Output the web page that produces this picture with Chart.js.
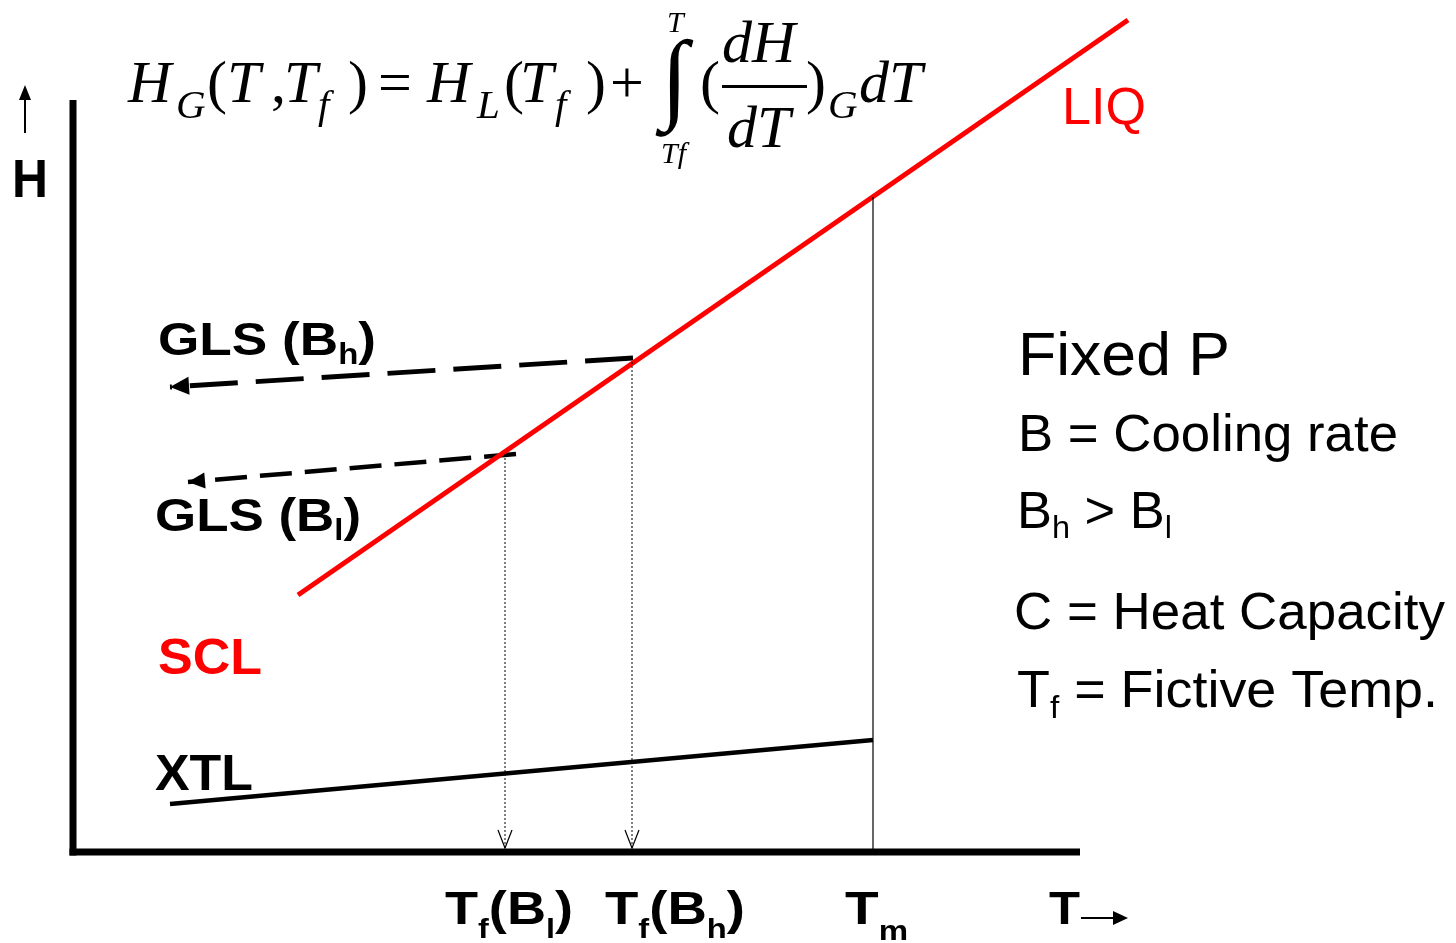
<!DOCTYPE html>
<html>
<head>
<meta charset="utf-8">
<script src="https://cdn.jsdelivr.net/npm/chart.js@4.4.1/dist/chart.umd.min.js"></script>
<style>
  html, body { margin: 0; padding: 0; background: #ffffff; }
  canvas { display: block; }
</style>
</head>
<body>
<canvas id="c" width="1456" height="943"></canvas>
<script>
// ---- Diagram values (T along x, H along y, arbitrary units) ----
const axisT = [0, 10.07];            // T axis from origin to its end
const axisH = [0, 7.52];             // H axis from origin to its top

// supercooled liquid / liquid line
const liqT = [2.25, 10.55];
const liqH = [2.57, 8.32];

// crystal line, ending at the melting point
const xtlT = [0.97, 8.0];
const xtlH = [0.48, 1.12];

// glass lines: start on the liquid line, run toward low T
const glsHighT = [5.60, 0.97];
const glsHighH = [4.94, 4.65];
const glsLowT  = [4.43, 1.15];
const glsLowH  = [3.98, 3.70];

// fictive temperatures and melting temperature
const tfLow  = 4.32;
const tfHigh = 5.59;
const tMelt  = 8.0;
const tfLowH  = 3.98;   // H where each drop line leaves the upper curve
const tfHighH = 4.90;
const tMeltH  = 6.55;

// little axis direction arrows
const hArrowT = [-0.48, -0.48];
const hArrowH = [7.19, 7.67];
const tArrowT = [10.08, 10.55];
const tArrowH = [-0.66, -0.66];

// visible window
const T_MIN = -0.73, T_MAX = 13.83;
const H_MIN = -0.91, H_MAX = 8.52;

function pts(ts, hs) { return ts.map((t, i) => ({ x: t, y: hs[i] })); }

function line(data, color, width, dash) {
  return {
    data, showLine: true, borderColor: color, borderWidth: width,
    borderDash: dash || [], pointRadius: 0, fill: false, tension: 0,
    borderCapStyle: 'butt'
  };
}

const RED = '#ff0000';
const BLACK = '#000000';

const datasets = [
  line(pts([axisT[0], axisT[0]], [axisH[0] - 0.035, axisH[1]]), BLACK, 7),
  line(pts([axisT[0] - 0.035, axisT[1]], [axisH[0], axisH[0]]), BLACK, 7),
  line(pts([tMelt, tMelt], [0, tMeltH]), BLACK, 1.2),
  line(pts([tfLow, tfLow], [tfLowH, 0.04]), BLACK, 1, [2, 2]),
  line(pts([tfHigh, tfHigh], [tfHighH, 0.04]), BLACK, 1, [2, 2]),
  line(pts(xtlT, xtlH), BLACK, 4.5),
  line(pts(liqT, liqH), RED, 5),
  line(pts(glsHighT, glsHighH), BLACK, 5, [48, 18]),
  line(pts(glsLowT, glsLowH), BLACK, 4.5, [32, 13]),
  line(pts(hArrowT, [hArrowH[0], hArrowH[1] - 0.1]), BLACK, 2),
  line(pts([tArrowT[0], tArrowT[1] - 0.1], tArrowH), BLACK, 2)
];

// ---- text helpers ----
function runFont(r, base) {
  const size = r.sub ? base.size * (base.subScale || 0.62) : (r.size || base.size);
  const style = r.italic !== undefined ? (r.italic ? 'italic ' : '') : (base.italic ? 'italic ' : '');
  const weight = base.weight || 'normal';
  return style + weight + ' ' + size + 'px ' + (base.family || '"Liberation Sans", Arial, sans-serif');
}

function drawRich(ctx, parts, x, y, base) {
  ctx.save();
  let natural = 0;
  parts.forEach(r => { ctx.font = runFont(r, base); natural += ctx.measureText(r.t).width + (r.gap || 0); });
  const sx = base.width ? base.width / natural : 1;
  ctx.translate(x, y);
  ctx.scale(sx, 1);
  ctx.fillStyle = base.color || BLACK;
  ctx.textBaseline = 'alphabetic';
  ctx.textAlign = 'left';
  let cx = 0;
  parts.forEach(r => {
    ctx.font = runFont(r, base);
    const dy = r.sub ? base.size * (base.subDrop || 0.22) : 0;
    ctx.fillText(r.t, cx, dy);
    cx += ctx.measureText(r.t).width + (r.gap || 0);
  });
  ctx.restore();
}

function arrowHead(ctx, tip, from, len, half, filled) {
  const dx = tip.x - from.x, dy = tip.y - from.y;
  const d = Math.hypot(dx, dy);
  const ux = dx / d, uy = dy / d;
  const bx = tip.x - ux * len, by = tip.y - uy * len;
  ctx.beginPath();
  ctx.moveTo(bx - uy * half, by + ux * half);
  ctx.lineTo(tip.x, tip.y);
  ctx.lineTo(bx + uy * half, by - ux * half);
  if (filled) { ctx.closePath(); ctx.fill(); } else { ctx.stroke(); }
}

const SANS = '"Liberation Sans", Arial, sans-serif';
const SERIF = '"Liberation Serif", "Times New Roman", serif';

const labels = [
  { parts: [{ t: 'LIQ' }], x: 1062, y: 124, base: { size: 51, color: RED, width: 84 } },
  { parts: [{ t: 'SCL' }], x: 158, y: 674, base: { size: 50, weight: 'bold', color: RED, width: 104 } },
  { parts: [{ t: 'XTL' }], x: 155, y: 790, base: { size: 50, weight: 'bold', width: 98 } },
  { parts: [{ t: 'GLS (B' }, { t: 'h', sub: true }, { t: ')' }], x: 158, y: 355,
    base: { size: 47, weight: 'bold', width: 218, subScale: 0.62, subDrop: 0.2 } },
  { parts: [{ t: 'GLS (B' }, { t: 'l', sub: true }, { t: ')' }], x: 155, y: 531,
    base: { size: 47, weight: 'bold', width: 206, subScale: 0.62, subDrop: 0.2 } },
  { parts: [{ t: 'H' }], x: 12, y: 197, base: { size: 54, weight: 'bold', width: 36 } },
  { parts: [{ t: 'T' }, { t: 'f', sub: true }, { t: '(B' }, { t: 'l', sub: true }, { t: ')' }], x: 445, y: 924,
    base: { size: 47, weight: 'bold', width: 128, subScale: 0.6, subDrop: 0.3 } },
  { parts: [{ t: 'T' }, { t: 'f', sub: true }, { t: '(B' }, { t: 'h', sub: true }, { t: ')' }], x: 605, y: 924,
    base: { size: 47, weight: 'bold', width: 140, subScale: 0.6, subDrop: 0.3 } },
  { parts: [{ t: 'T' }, { t: 'm', sub: true }], x: 845, y: 924,
    base: { size: 47, weight: 'bold', width: 63, subScale: 0.6, subDrop: 0.35 } },
  { parts: [{ t: 'T' }], x: 1049, y: 924, base: { size: 47, weight: 'bold', width: 31 } },
  { parts: [{ t: 'Fixed P' }], x: 1018, y: 375, base: { size: 62, width: 212 } },
  { parts: [{ t: 'B = Cooling rate' }], x: 1018, y: 451, base: { size: 52, width: 380 } },
  { parts: [{ t: 'B' }, { t: 'h', sub: true }, { t: ' > B' }, { t: 'l', sub: true }], x: 1017, y: 528,
    base: { size: 52, subScale: 0.62, subDrop: 0.2, width: 155 } },
  { parts: [{ t: 'C = Heat Capacity' }], x: 1014, y: 629, base: { size: 52, width: 431 } },
  { parts: [{ t: 'T' }, { t: 'f', sub: true }, { t: ' = Fictive Temp.' }], x: 1017, y: 707,
    base: { size: 52, subScale: 0.62, subDrop: 0.22, width: 421 } }
];

// equation pieces: [text, left x, baseline y, size, italic]
const EQ_SIZE = 60;
const EQ_SUB = 41;
const equation = [
  ['H', 128, 102, EQ_SIZE, true],
  ['G', 176, 118, EQ_SUB, true],
  ['(', 207, 102, EQ_SIZE, false],
  ['T', 227, 102, EQ_SIZE, true],
  [',', 271, 102, EQ_SIZE, false],
  ['T', 284, 102, EQ_SIZE, true],
  ['f', 318, 118, EQ_SUB, true],
  [')', 348, 102, EQ_SIZE, false],
  ['=', 378, 102, EQ_SIZE, false],
  ['H', 427, 102, EQ_SIZE, true],
  ['L', 477, 118, EQ_SUB, true],
  ['(', 504, 102, EQ_SIZE, false],
  ['T', 520, 102, EQ_SIZE, true],
  ['f', 555, 118, EQ_SUB, true],
  [')', 586, 102, EQ_SIZE, false],
  ['+', 610, 102, EQ_SIZE, false],
  ['T', 667, 32, 30, true],
  ['Tf', 661, 163, 30, true],
  ['(', 700, 102, EQ_SIZE, false],
  ['dH', 722, 62, EQ_SIZE, true],
  ['dT', 727, 147, EQ_SIZE, true],
  [')', 806, 102, EQ_SIZE, false],
  ['G', 828, 118, EQ_SUB, true],
  ['dT', 859, 102, EQ_SIZE, true]
];

const overlay = {
  id: 'overlay',
  afterDatasetsDraw(chart) {
    const ctx = chart.ctx;
    const xs = chart.scales.x, ys = chart.scales.y;
    const P = (t, h) => ({ x: xs.getPixelForValue(t), y: ys.getPixelForValue(h) });

    ctx.save();
    ctx.fillStyle = BLACK;
    ctx.strokeStyle = BLACK;

    // filled heads on the glass lines
    arrowHead(ctx, P(glsHighT[1], glsHighH[1]), P(glsHighT[0], glsHighH[0]), 19, 9, true);
    arrowHead(ctx, P(glsLowT[1], glsLowH[1]), P(glsLowT[0], glsLowH[0]), 17, 8, true);

    // open heads at the foot of the fictive temperature drop lines
    ctx.lineWidth = 1.2;
    arrowHead(ctx, P(tfLow, 0.04), P(tfLow, 1), 18, 7, false);
    arrowHead(ctx, P(tfHigh, 0.04), P(tfHigh, 1), 18, 7, false);

    // axis direction arrows
    arrowHead(ctx, P(hArrowT[1], hArrowH[1]), P(hArrowT[0], hArrowH[0]), 15, 6, true);
    arrowHead(ctx, P(tArrowT[1], tArrowH[1]), P(tArrowT[0], tArrowH[0]), 15, 7, true);

    // labels
    labels.forEach(l => drawRich(ctx, l.parts, l.x, l.y, l.base));

    // the equation
    ctx.fillStyle = BLACK;
    ctx.textBaseline = 'alphabetic';
    equation.forEach(([t, x, y, s, it]) => {
      ctx.font = (it ? 'italic ' : '') + s + 'px ' + SERIF;
      ctx.fillText(t, x, y);
    });
    // integral sign
    ctx.font = '100px ' + SERIF;
    ctx.fillText('\u222B', 661, 110);
    // fraction bar
    ctx.fillRect(722, 85, 85, 3);
    ctx.restore();
  }
};

new Chart(document.getElementById('c'), {
  type: 'scatter',
  data: { datasets },
  options: {
    responsive: false,
    animation: false,
    devicePixelRatio: 1,
    layout: { padding: 0 },
    plugins: { legend: { display: false }, tooltip: { enabled: false } },
    scales: {
      x: { type: 'linear', min: T_MIN, max: T_MAX, display: false },
      y: { type: 'linear', min: H_MIN, max: H_MAX, display: false }
    }
  },
  plugins: [overlay]
});
</script>
</body>
</html>
